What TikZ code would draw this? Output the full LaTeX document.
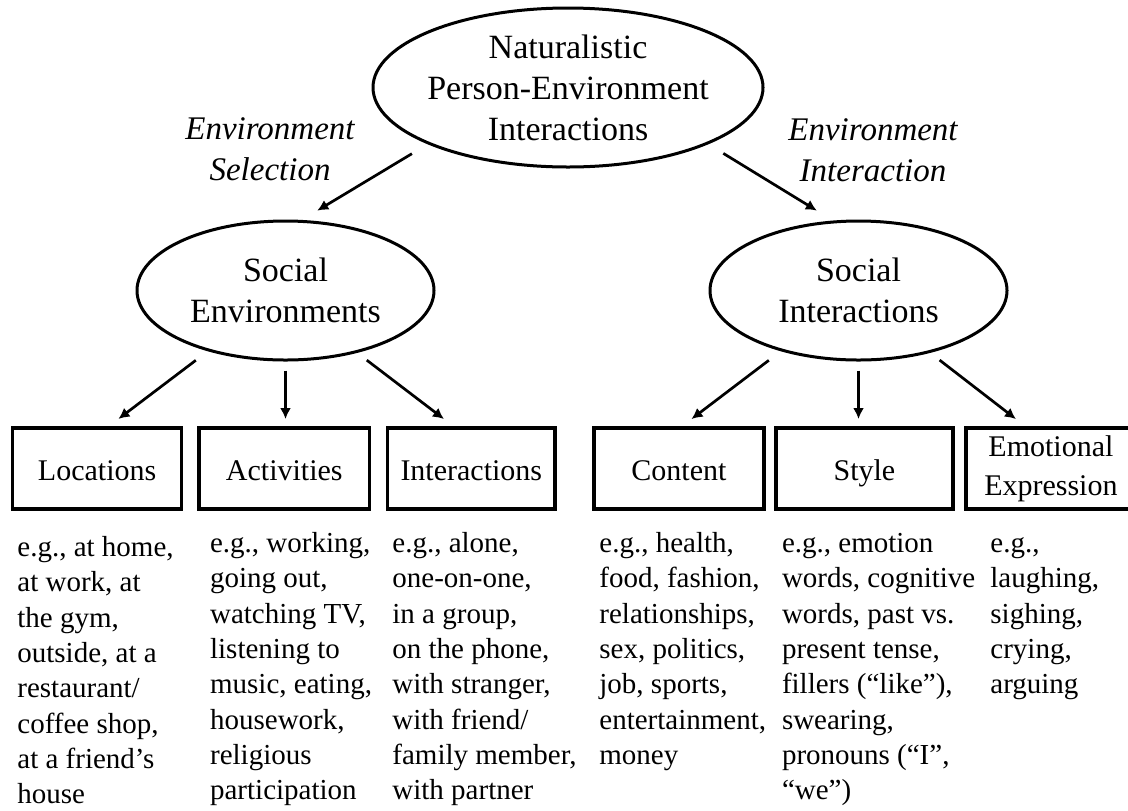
\documentclass[tikz,border=0pt]{standalone}
\usepackage{fontspec}
\setmainfont{Liberation Serif}
\usepackage{tikz}
\usetikzlibrary{positioning}
\usetikzlibrary{shapes.geometric}
\usetikzlibrary{arrows.meta}
\tikzset{oval/.style={ellipse, draw, line width=1.5pt, inner sep=0pt, inner xsep=-3pt, align=center, font=\fontsize{17}{20.5}\selectfont}}
\tikzset{cat/.style={rectangle, draw, line width=1.8pt, inner sep=0pt, outer sep=0pt, minimum height=40.5pt, align=center, font=\fontsize{15}{19.5}\selectfont}}
\tikzset{catline/.style={cat, text height=13pt, text depth=1.5pt}}
\tikzset{egs/.style={anchor=north west, inner sep=0pt, align=left, font=\fontsize{14.5}{17.65}\selectfont}}
\tikzset{route/.style={anchor=north, inner sep=0pt, align=center, font=\fontsize{16.5}{20.5}\selectfont\itshape}}
\tikzset{arr/.style={-{Latex[length=5.5pt,width=5.5pt]}, line width=1.35pt}}

\begin{document}
\begin{tikzpicture}[x=0.5pt, y=-0.5pt]
\useasboundingbox (0,0) rectangle (1128,810);
\clip (0,0) rectangle (1128,810);

\node[oval, minimum width=195pt, minimum height=79.5pt] (nat) at (568,87.5) {Naturalistic\\Person-Environment\\Interactions};
\node[oval, minimum width=148.5pt, minimum height=69.5pt] (senv) at (285.5,290.5) {Social\\Environments};
\node[oval, minimum width=148.5pt, minimum height=69.5pt] (sint) at (858.5,290.5) {Social\\Interactions};
\node[route] (sel) at (270,110.3) {\strut Environment\\Selection};
\node[route] (inter) at (873,111.3) {\strut Environment\\Interaction};

\node[catline, minimum width=84.5pt] (loc) at (97.1,468.5) {Locations};
\node[catline, minimum width=85.2pt, right=8.75pt of loc] (act) {Activities};
\node[catline, minimum width=83.8pt, right=9pt of act] (int) {Interactions};
\node[catline, minimum width=84.85pt, right=19.5pt of int] (con) {Content};
\node[catline, minimum width=88.25pt, right=6.2pt of con] (sty) {Style};
\node[cat, minimum width=85pt, right=6.6pt of sty] (emo) {Emotional\\Expression};

\node[egs] (exloc) at (17,531.5) {\strut e.g., at home,\\at work, at\\the gym,\\outside, at a\\restaurant/\\coffee shop,\\at a friend’s\\house};
\node[egs] (exact) at (209.7,527.5) {\strut e.g., working,\\going out,\\watching TV,\\listening to\\music, eating,\\housework,\\religious\\participation};
\node[egs] (exint) at (392,527.5) {\strut e.g., alone,\\one-on-one,\\in a group,\\on the phone,\\with stranger,\\with friend/\\family member,\\with partner};
\node[egs] (excon) at (599,527.5) {\strut e.g., health,\\food, fashion,\\relationships,\\sex, politics,\\job, sports,\\entertainment,\\money};
\node[egs] (exsty) at (781.6,527.5) {\strut e.g., emotion\\words, cognitive\\words, past vs.\\present tense,\\fillers (“like”),\\swearing,\\pronouns (“I”,\\“we”)};
\node[egs] (exemo) at (990,527.5) {\strut e.g.,\\laughing,\\sighing,\\crying,\\arguing};

\draw[arr, shorten <=9.2pt, shorten >=9pt] (nat.202) -- (senv.77);
\draw[arr, shorten <=8.8pt, shorten >=9.5pt] (nat.338) -- (sint.110);
\draw[arr, shorten <=7.5pt, shorten >=7.5pt] (senv.218) -- (loc.77);
\draw[arr, shorten <=4.5pt, shorten >=4.5pt] (senv.south) -- (senv.south |- act.north);
\draw[arr, shorten <=6pt, shorten >=7.4pt] (senv.319) -- (int.111);
\draw[arr, shorten <=7.5pt, shorten >=7.4pt] (sint.218) -- (con.89);
\draw[arr, shorten <=4.5pt, shorten >=4.5pt] (sint.south) -- (sint.south |- sty.north);
\draw[arr, shorten <=5.9pt, shorten >=7.3pt] (sint.319) -- (emo.120);
\end{tikzpicture}
\end{document}
